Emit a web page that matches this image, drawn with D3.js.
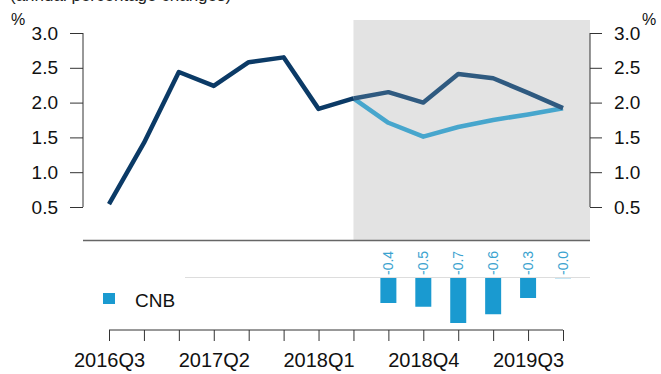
<!DOCTYPE html>
<html><head><meta charset="utf-8">
<script src="https://cdn.jsdelivr.net/npm/d3@7/dist/d3.min.js"></script>
<style>body{margin:0;background:#fff}svg{display:block}text{font-family:"Liberation Sans",Arial,sans-serif}</style>
</head><body>
<svg id="c" width="661" height="374"></svg>
<script>
const quarters = ["2016Q3","2016Q4","2017Q1","2017Q2","2017Q3","2017Q4","2018Q1","2018Q2","2018Q3","2018Q4","2019Q1","2019Q2","2019Q3","2019Q4"];
const actual = [0.54,1.42,2.44,2.24,2.58,2.65,1.91,2.06];
const actualQ = quarters.slice(0,8);
const forecastA = [2.06,2.15,2.00,2.41,2.35,2.14,1.92];
const forecastB = [2.06,1.71,1.51,1.65,1.75,1.83,1.92];
const forecastQ = quarters.slice(7);
const barQ = quarters.slice(8);
const barVals = [-0.40,-0.46,-0.72,-0.58,-0.32,-0.004];
const yTicks = [0.5,1.0,1.5,2.0,2.5,3.0];
const xLabelQ = ["2016Q3","2017Q2","2018Q1","2018Q4","2019Q3"];
const legendLabel = "CNB";
const subtitle = "(annual percentage changes)";

const svg = d3.select("#c");
const x = d3.scalePoint().domain(quarters).range([109,563]);
const y = d3.scaleLinear().domain([0.5,3.0]).range([207,33]);
const yb = d3.scaleLinear().domain([0,-0.72]).range([278,323]);

// subtitle (cut off at top, as in the reference)
svg.append("text").attr("x",10).attr("y",1).attr("font-size",17).attr("fill","#222").text(subtitle);

// forecast shading
svg.append("rect").attr("x",x("2018Q2")).attr("y",20).attr("width",590-x("2018Q2")).attr("height",220).attr("fill","#e3e3e3");

// divider line
svg.append("line").attr("x1",83).attr("x2",590).attr("y1",240.5).attr("y2",240.5).attr("stroke","#666").attr("stroke-width",1.5);

// y axes
const yl = svg.append("g").attr("transform","translate(83,0)")
  .call(d3.axisLeft(y).tickValues(yTicks).tickFormat(d3.format(".1f")).tickSize(13).tickPadding(12));
const yr = svg.append("g").attr("transform","translate(590,0)")
  .call(d3.axisRight(y).tickValues(yTicks).tickFormat(d3.format(".1f")).tickSize(12).tickPadding(12));
[yl,yr].forEach(g=>{
  g.select(".domain").attr("stroke","#333").attr("d",`M0,${y(3)}V${y(0.5)}`);
  g.selectAll(".tick line").attr("stroke","#333");
  g.selectAll(".tick text").attr("font-size",19).attr("fill","#111").attr("font-family","Liberation Sans, Arial, sans-serif");
});
svg.append("text").attr("x",11).attr("y",25).attr("font-size",16).attr("fill","#111").text("%");
svg.append("text").attr("x",642).attr("y",25).attr("font-size",16).attr("fill","#111").text("%");

// lines
const line = d3.line().x(d=>x(d[0])).y(d=>y(d[1]));
svg.append("path").datum(forecastQ.map((q,i)=>[q,forecastB[i]])).attr("d",line)
  .attr("fill","none").attr("stroke","#47a6cd").attr("stroke-width",4.5).attr("stroke-linejoin","round");
svg.append("path").datum(forecastQ.map((q,i)=>[q,forecastA[i]])).attr("d",line)
  .attr("fill","none").attr("stroke","#2f5a80").attr("stroke-width",4.5).attr("stroke-linejoin","round");
svg.append("path").datum(actualQ.map((q,i)=>[q,actual[i]])).attr("d",line)
  .attr("fill","none").attr("stroke","#0b3a66").attr("stroke-width",4.5).attr("stroke-linejoin","round");

// bar panel
svg.append("line").attr("x1",185).attr("x2",590).attr("y1",277.5).attr("y2",277.5).attr("stroke","#ddd").attr("stroke-width",1);
const bw = 16;
svg.selectAll("rect.bar").data(barQ.map((q,i)=>[q,barVals[i]])).enter().append("rect").attr("class","bar")
  .attr("x",d=>x(d[0])-bw/2).attr("y",yb(0)).attr("width",bw).attr("height",d=>yb(d[1])-yb(0)).attr("fill","#1a9ad0");
svg.selectAll("text.bl").data(barQ.map((q,i)=>[q,barVals[i]])).enter().append("text").attr("class","bl")
  .attr("transform",d=>`translate(${x(d[0])+5},275) rotate(-90)`)
  .attr("font-size",14).attr("fill","#3ba3cf").text(d=>d[1].toFixed(1));

// legend
svg.append("rect").attr("x",103).attr("y",293).attr("width",12).attr("height",11).attr("fill","#1a9ad0");
svg.append("text").attr("x",135).attr("y",307).attr("font-size",19).attr("fill","#111").text(legendLabel);

// bottom axis
const xa = svg.append("g").attr("transform","translate(0,330)")
  .call(d3.axisBottom(x).tickValues(quarters).tickSize(11).tickSizeOuter(0).tickFormat(d=>xLabelQ.includes(d)?d:""));
xa.select(".domain").attr("stroke","#333").attr("d",`M${x(quarters[0])},0H${x(quarters[13])}`);
xa.selectAll(".tick line").attr("stroke","#333");
xa.selectAll(".tick text").attr("font-size",20).attr("fill","#111").attr("dy","1.15em").attr("font-family","Liberation Sans, Arial, sans-serif");
</script>
</body></html>
